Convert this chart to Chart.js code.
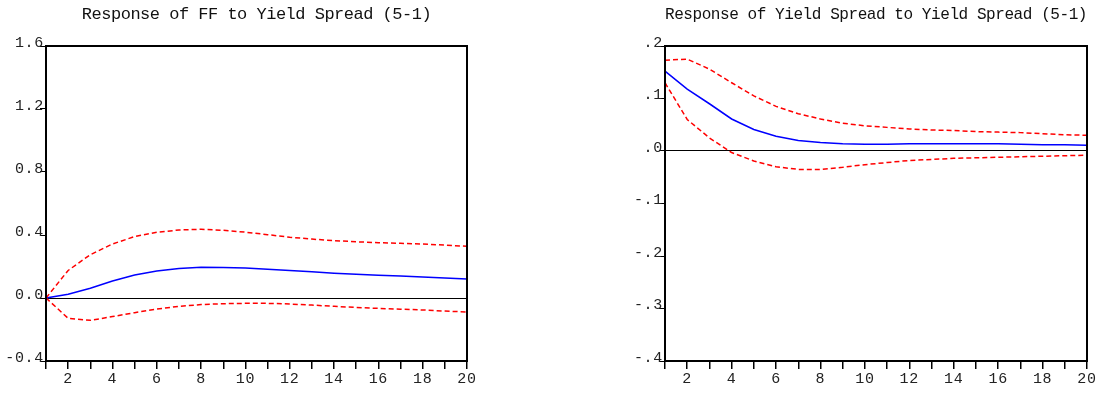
<!DOCTYPE html>
<html>
<head>
<meta charset="utf-8">
<script src="https://cdn.jsdelivr.net/npm/chart.js@4.4.0/dist/chart.umd.min.js"></script>
<style>
  html, body { margin: 0; padding: 0; background: #fff; }
  #wrap { position: relative; width: 1104px; height: 395px; overflow: hidden; }
  .panel { position: absolute; top: 0; width: 552px; height: 395px; }
  canvas { display: block; }
</style>
</head>
<body>
<div id="wrap">
  <div class="panel" style="left:0"><canvas id="c1" width="552" height="395"></canvas></div>
  <div class="panel" style="left:552px"><canvas id="c2" width="552" height="395"></canvas></div>
</div>
<script>
// ---- data ----
const periods = ['1','2','3','4','5','6','7','8','9','10','11','12','13','14','15','16','17','18','19','20'];

const ffTitle = 'Response of FF to Yield Spread (5-1)';
const ffResponse = [0, 0.024, 0.062, 0.108, 0.146, 0.171, 0.187, 0.195, 0.194, 0.190, 0.182, 0.174, 0.166, 0.157, 0.151, 0.145, 0.139, 0.133, 0.127, 0.121];
const ffUpper    = [0, 0.175, 0.275, 0.343, 0.390, 0.417, 0.432, 0.436, 0.430, 0.418, 0.402, 0.386, 0.374, 0.364, 0.357, 0.351, 0.347, 0.343, 0.336, 0.328];
const ffLower    = [0, -0.129, -0.142, -0.118, -0.093, -0.070, -0.053, -0.042, -0.036, -0.034, -0.034, -0.038, -0.045, -0.053, -0.060, -0.066, -0.071, -0.076, -0.083, -0.089];
const ffTicks    = [-0.4, 0.0, 0.4, 0.8, 1.2, 1.6];

const ysTitle = 'Response of Yield Spread to Yield Spread (5-1)';
const ysResponse = [0.152, 0.118, 0.090, 0.061, 0.041, 0.028, 0.020, 0.016, 0.014, 0.013, 0.013, 0.014, 0.014, 0.014, 0.014, 0.014, 0.013, 0.012, 0.012, 0.011];
const ysUpper    = [0.173, 0.175, 0.156, 0.130, 0.105, 0.085, 0.071, 0.061, 0.053, 0.048, 0.045, 0.042, 0.040, 0.039, 0.037, 0.036, 0.035, 0.033, 0.031, 0.030];
const ysLower    = [0.130, 0.060, 0.025, -0.003, -0.019, -0.030, -0.035, -0.035, -0.031, -0.026, -0.022, -0.018, -0.016, -0.014, -0.013, -0.012, -0.011, -0.010, -0.009, -0.008];
const ysTicks    = [-0.4, -0.3, -0.2, -0.1, 0.0, 0.1, 0.2];

// ---- styling / helpers ----
const FONT = 'Liberation Mono';

const framePlugin = {
  id: 'frame',
  beforeDraw(chart) { chart.ctx.letterSpacing = '-0.5px'; },       // title text
  afterDatasetsDraw(chart) { chart.ctx.letterSpacing = '0.7px'; }, // tick labels (drawn after datasets)
  afterDraw(chart) {
    const a = chart.chartArea, ctx = chart.ctx;
    ctx.save();
    ctx.strokeStyle = '#000';
    ctx.lineWidth = 2;
    ctx.strokeRect(a.left, a.top, a.right - a.left, a.bottom - a.top);
    ctx.restore();
  }
};

function makeChart(id, title, mid, up, lo, ticks, fmt, yAxisWidth, padRight) {
  const step = +(ticks[1] - ticks[0]).toFixed(6);
  return new Chart(document.getElementById(id), {
    type: 'line',
    data: {
      labels: periods,
      datasets: [
        { data: up, borderColor: '#ff0000', borderWidth: 1.5, borderDash: [5, 3], pointRadius: 0, tension: 0, fill: false },
        { data: lo, borderColor: '#ff0000', borderWidth: 1.5, borderDash: [5, 3], pointRadius: 0, tension: 0, fill: false },
        { data: mid, borderColor: '#0000ff', borderWidth: 1.5, pointRadius: 0, tension: 0, fill: false }
      ]
    },
    options: {
      responsive: false,
      animation: false,
      devicePixelRatio: 1,
      events: [],
      layout: { padding: { left: 0, right: padRight, top: 0, bottom: 0 } },
      plugins: {
        legend: { display: false },
        tooltip: { enabled: false },
        title: {
          display: true, text: title, fullSize: false, color: '#111',
          font: { family: FONT, size: 17, weight: 'normal', lineHeight: 1.2 },
          padding: { top: 4, bottom: 21.6 }
        }
      },
      scales: {
        x: {
          type: 'category',
          offset: false,
          border: { display: false },
          grid: { display: true, drawOnChartArea: false, drawTicks: true, tickLength: 8, tickColor: '#000', lineWidth: 1.5, offset: false },
          ticks: {
            z: 1,
            autoSkip: false, maxRotation: 0, minRotation: 0, padding: 1, color: '#222',
            font: { family: FONT, size: 15 },
            callback: (v, i) => ((i + 1) % 2 === 0 ? periods[i] : '')
          },
          afterFit: s => { s.height = 34; }
        },
        y: {
          min: ticks[0], max: ticks[ticks.length - 1],
          border: { display: false },
          grid: {
            drawOnChartArea: true, drawTicks: true, tickLength: 6, tickColor: '#000',
            color: c => (c.tick && Math.abs(c.tick.value) < 1e-9 ? '#000' : 'rgba(0,0,0,0)'),
            lineWidth: 1
          },
          ticks: {
            z: 1,
            stepSize: step, padding: -4, labelOffset: -3, color: '#222',
            font: { family: FONT, size: 15 },
            callback: v => fmt(v)
          },
          afterFit: s => { s.width = yAxisWidth; }
        }
      }
    },
    plugins: [framePlugin]
  });
}

makeChart('c1', ffTitle, ffResponse, ffUpper, ffLower, ffTicks, v => v.toFixed(1), 46, 85);
makeChart('c2', ysTitle, ysResponse, ysUpper, ysLower, ysTicks, v => v.toFixed(1).replace('0.', '.'), 113, 17);
</script>
</body>
</html>
